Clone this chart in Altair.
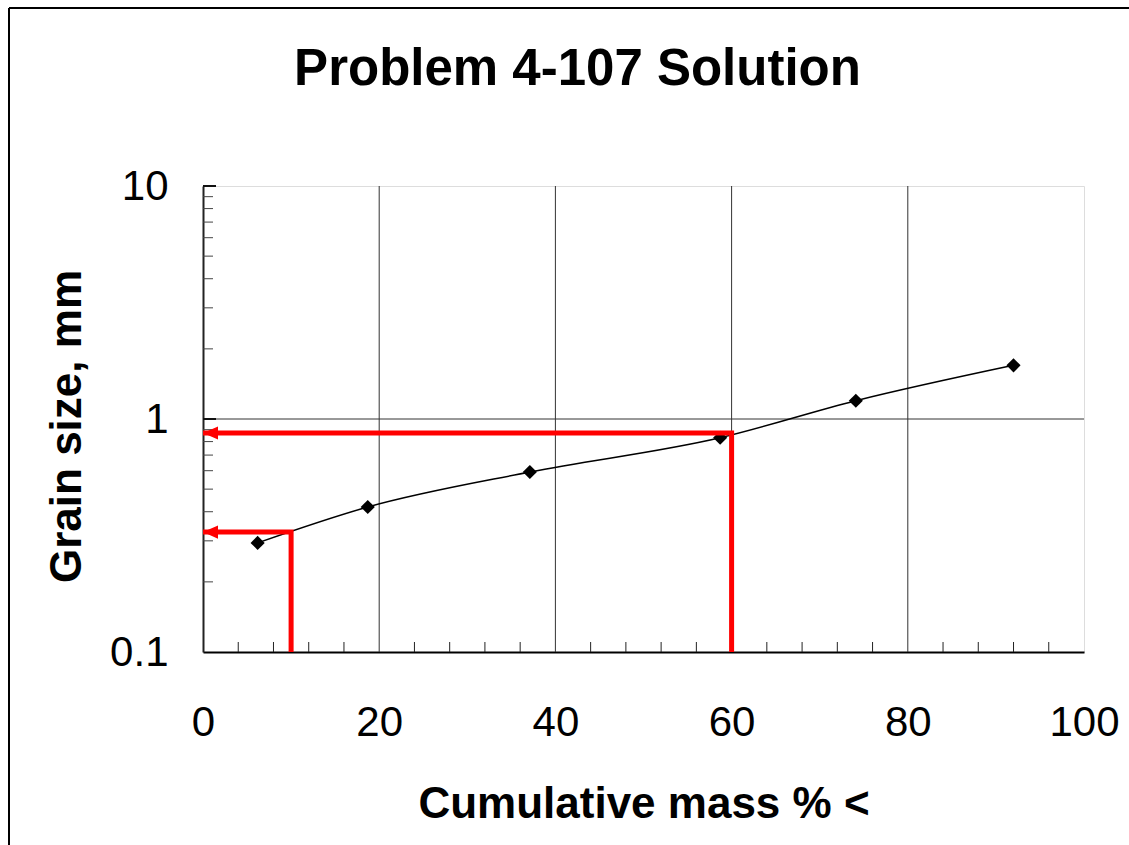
import altair as alt
import pandas as pd

# ---- data ----
mass_pct = [6.2, 18.7, 37.1, 58.7, 74.1, 92.0]
grain_mm = [0.294, 0.419, 0.592, 0.831, 1.198, 1.70]

guide_id = ["d60", "d60", "d60", "d10", "d10", "d10"]
guide_x = [60, 60, 0, 10, 10, 0]
guide_y = [0.1, 0.87, 0.87, 0.1, 0.327, 0.327]
guide_ord = [0, 1, 2, 0, 1, 2]

arrow_x = [0, 0]
arrow_y = [0.87, 0.327]

x_ticks = [0, 20, 40, 60, 80, 100]
y_ticks = [0.1, 1, 10]
x_grid = [20, 40, 60, 80]
y_grid = [1]
x_minor = [4, 8, 12, 16, 24, 28, 32, 36, 44, 48, 52, 56, 64, 68, 72, 76, 84, 88, 92, 96]
y_minor = [0.2, 0.3, 0.4, 0.5, 0.6, 0.7, 0.8, 0.9, 2, 3, 4, 5, 6, 7, 8, 9]
y_major = [1, 10]

W, H = 881, 466
FONT = "Liberation Sans"

pts = pd.DataFrame({"mass": mass_pct, "size": grain_mm})
guides = pd.DataFrame({"id": guide_id, "mass": guide_x, "size": guide_y, "ord": guide_ord})
arrows = pd.DataFrame({"mass": arrow_x, "size": arrow_y})

xscale = alt.Scale(domain=[0, 100], nice=False, zero=False)
yscale = alt.Scale(type="log", domain=[0.1, 10], nice=False)

x_axis = alt.Axis(
    values=x_ticks, grid=False, ticks=False, labelPadding=50,
    labelFontSize=42, labelFont=FONT, labelColor="black", labelBaseline="top",
    labelOverlap=False, labelFlush=False,
    domainColor="black", domainWidth=2,
    title="Cumulative mass % <", titleFontSize=44, titleFont=FONT,
    titleFontWeight="bold", titleColor="black", titleX=W / 2, titleY=165,
    titleBaseline="alphabetic", titleAlign="center",
)
y_axis = alt.Axis(
    values=y_ticks, format="~g", grid=False, ticks=False, labelPadding=35,
    labelFontSize=42, labelFont=FONT, labelColor="black", labelOverlap=False,
    labelFlush=False,
    domainColor="#222222", domainWidth=2,
    title="Grain size, mm", titleFontSize=44, titleFont=FONT,
    titleFontWeight="bold", titleColor="black", titleX=-123, titleY=240,
    titleAngle=270, titleBaseline="alphabetic", titleAlign="center",
)

X = lambda f: alt.X(f, scale=xscale)
Y = lambda f: alt.Y(f, scale=yscale)

# invisible layer that carries the axes
axes_layer = alt.Chart(pts).mark_point(opacity=0).encode(
    x=alt.X("mass:Q", scale=xscale, axis=x_axis), y=alt.Y("size:Q", scale=yscale, axis=y_axis))

grid_x = alt.Chart(pd.DataFrame({"mass": x_grid})).mark_rule(color="#333333", strokeWidth=1).encode(
    x=X("mass:Q"), y=alt.value(0), y2=alt.value(H))
grid_y = alt.Chart(pd.DataFrame({"size": y_grid})).mark_rule(color="#333333", strokeWidth=1).encode(
    y=Y("size:Q"), x=alt.value(0), x2=alt.value(W))
minor_x = alt.Chart(pd.DataFrame({"mass": x_minor})).mark_rule(color="#222222", strokeWidth=1).encode(
    x=X("mass:Q"), y=alt.value(H - 10), y2=alt.value(H))
minor_y = alt.Chart(pd.DataFrame({"size": y_minor})).mark_rule(color="#444444", strokeWidth=1).encode(
    y=Y("size:Q"), x=alt.value(0), x2=alt.value(10))
major_y = alt.Chart(pd.DataFrame({"size": y_major})).mark_rule(color="#111111", strokeWidth=2).encode(
    y=Y("size:Q"), x=alt.value(0), x2=alt.value(13))

curve = alt.Chart(pts).mark_line(color="black", strokeWidth=1.5, interpolate="monotone").encode(
    x=X("mass:Q"), y=Y("size:Q"))
points = alt.Chart(pts).mark_point(shape="diamond", filled=True, size=200, color="black", opacity=1).encode(
    x=X("mass:Q"), y=Y("size:Q"))

guide_lines = alt.Chart(guides).mark_line(color="#ff0000", strokeWidth=5, strokeCap="butt",
                                          strokeJoin="miter").encode(
    x=X("mass:Q"), y=Y("size:Q"), detail="id:N", order="ord:Q")
arrow_heads = alt.Chart(arrows).mark_point(shape="M 0 0 L 2 -0.87 L 2 0.87 Z", filled=True, size=225,
                                           color="#ff0000", opacity=1).encode(
    x=X("mass:Q"), y=Y("size:Q"))

frame_left = alt.Chart(pd.DataFrame({"k": [0]})).mark_rule(color="black", strokeWidth=2).encode(
    x=alt.value(-194), y=alt.value(-178), y2=alt.value(700))
frame_top = alt.Chart(pd.DataFrame({"k": [0]})).mark_rule(color="black", strokeWidth=2).encode(
    x=alt.value(-194), x2=alt.value(960), y=alt.value(-178))

chart = alt.layer(
    axes_layer, grid_x, grid_y, minor_x, minor_y, major_y, curve, points, guide_lines, arrow_heads,
    frame_left, frame_top,
).properties(
    width=W, height=H,
    title=alt.TitleParams("Problem 4-107 Solution", fontSize=51, font=FONT, fontWeight="bold",
                          color="black", anchor="middle", dx=-66, offset=-129,
                          baseline="alphabetic"),
    autosize=alt.AutoSizeParams(type="none"),
    padding={"left": 203, "top": 186, "right": 45, "bottom": 193},
).configure_view(
    stroke="#999999", strokeWidth=2
).configure(background="white")

chart.save("out.html", embed_options={"renderer": "svg", "actions": False})
